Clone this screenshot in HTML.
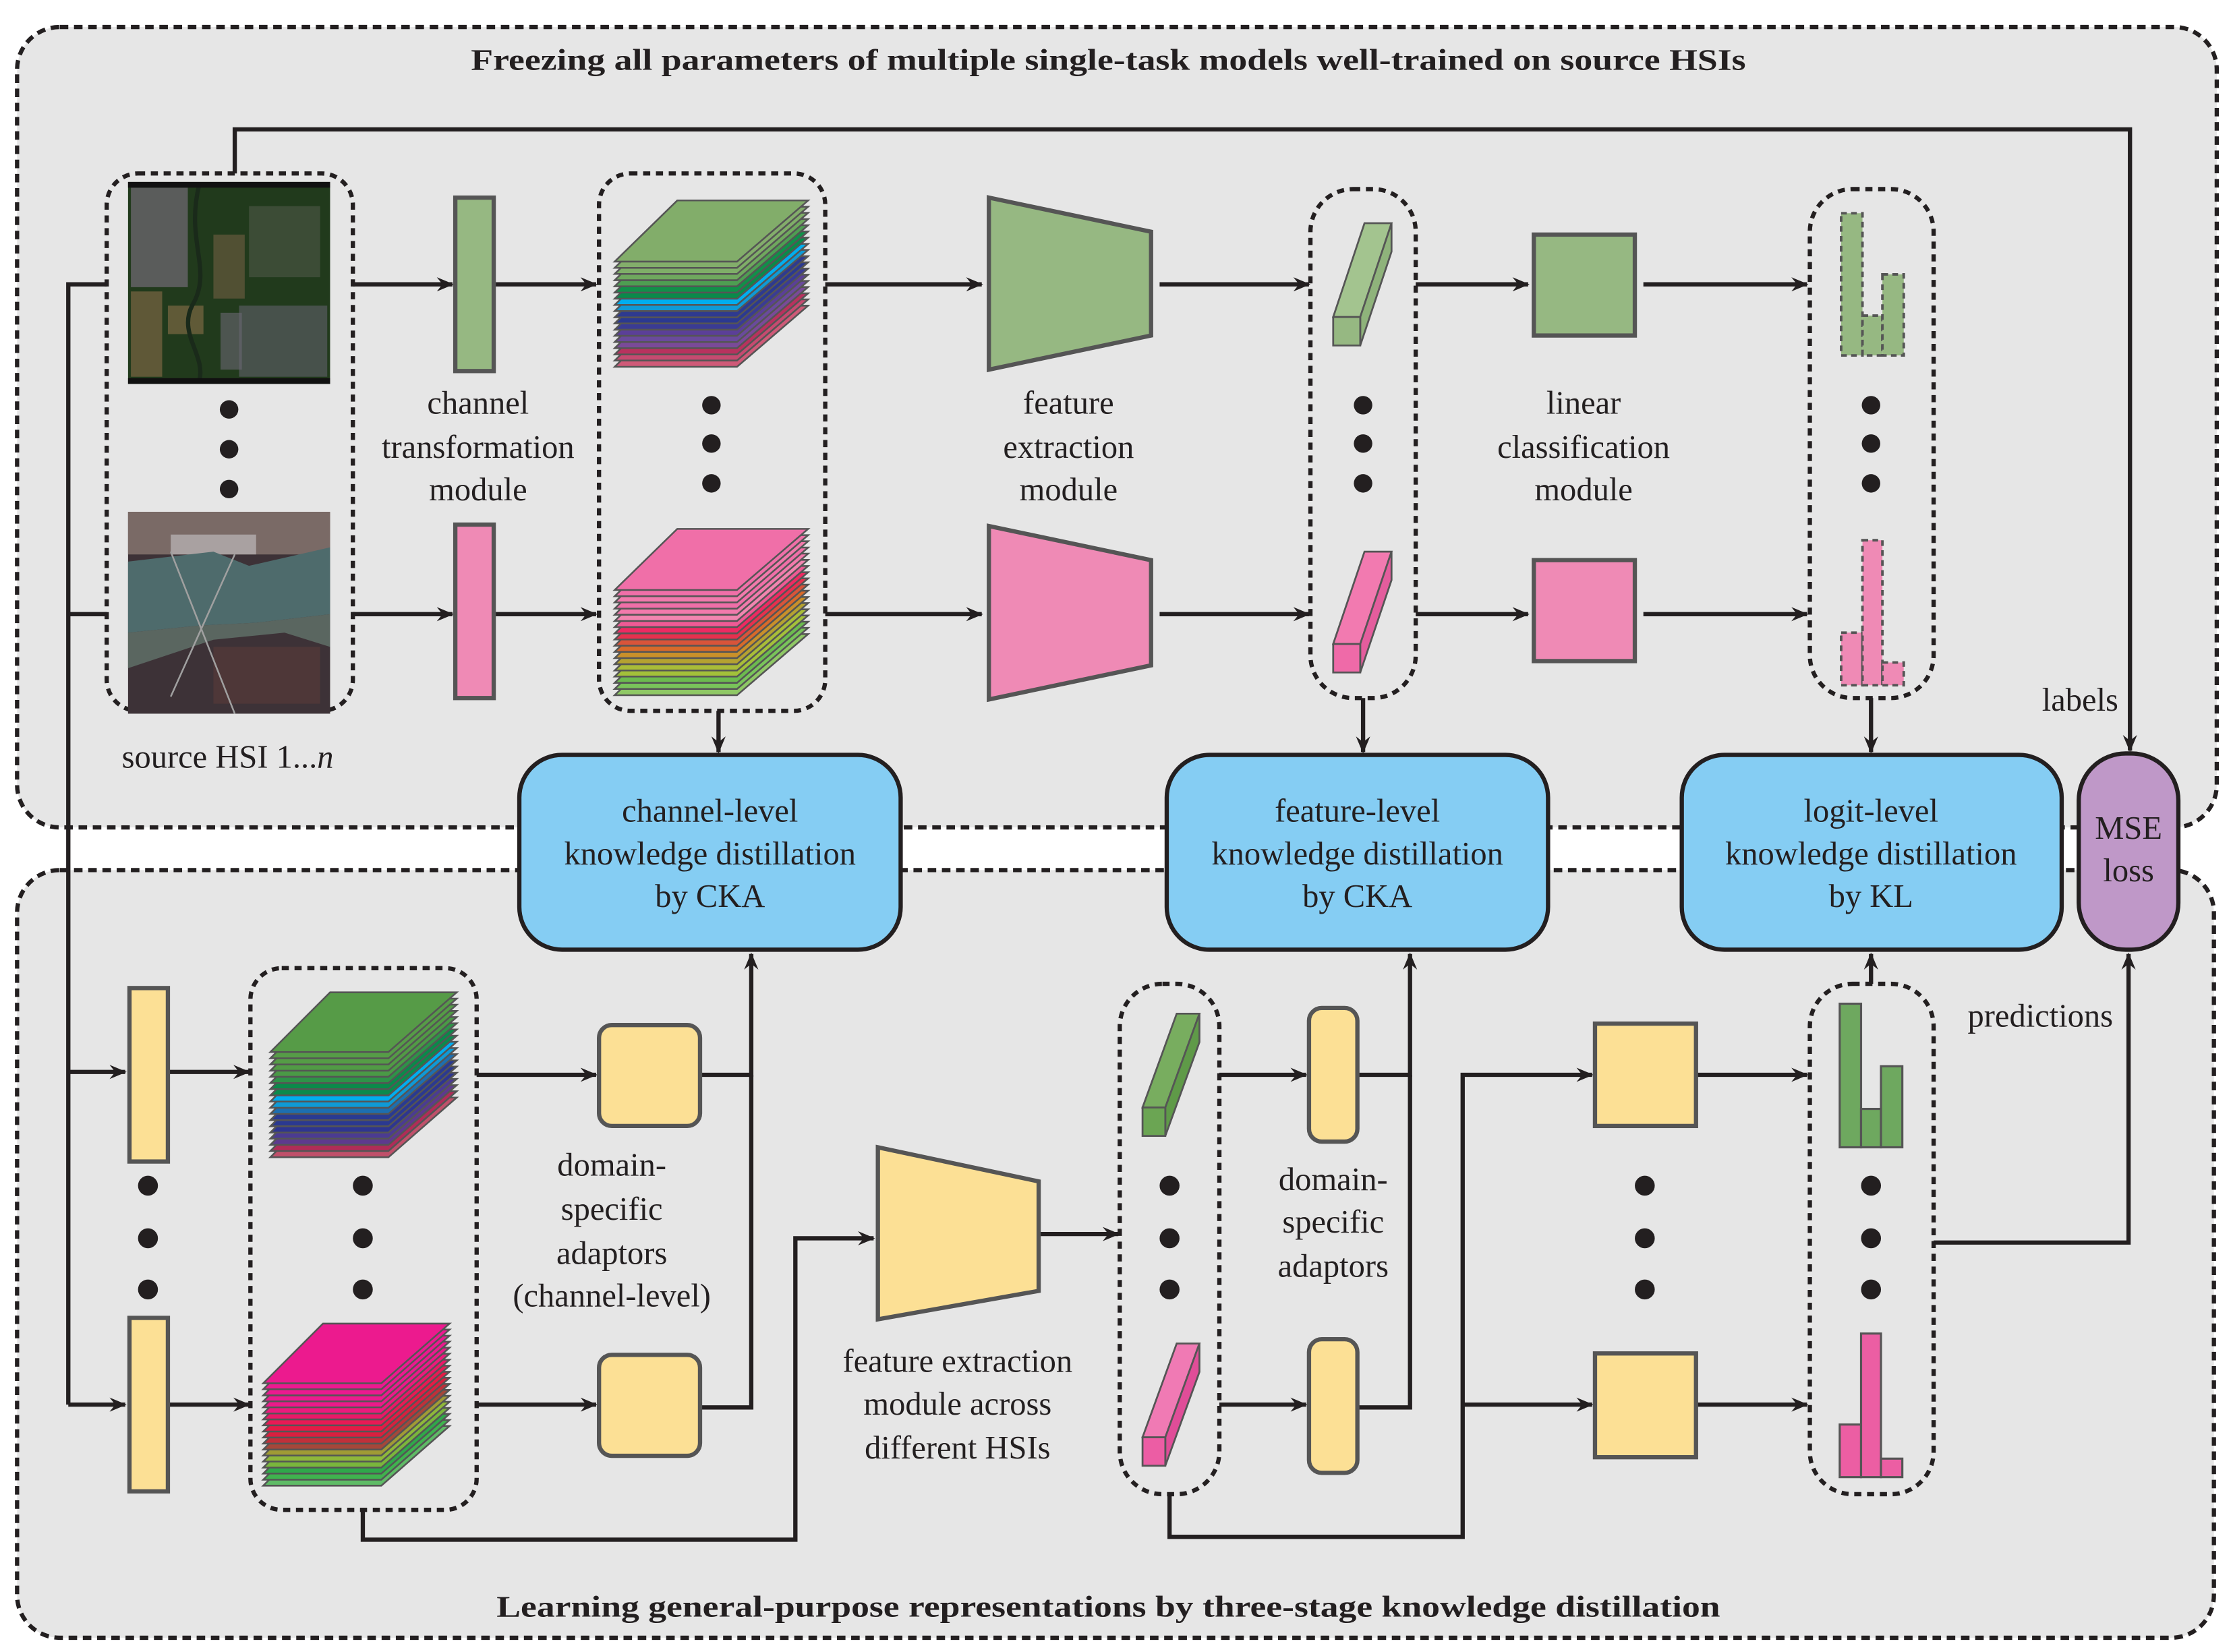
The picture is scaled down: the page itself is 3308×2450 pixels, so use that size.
<!DOCTYPE html>
<html><head><meta charset="utf-8"><style>html,body{margin:0;padding:0;background:#fff}svg{display:block}</style></head><body>
<svg width="3308" height="2450" viewBox="0 0 1568 1162" preserveAspectRatio="none" xmlns="http://www.w3.org/2000/svg" font-family="'Liberation Serif', serif">
<defs>
<marker id="ar" viewBox="0 0 12 10" refX="11" refY="5" markerWidth="12" markerHeight="10" markerUnits="userSpaceOnUse" orient="auto"><path d="M0,0 L12,5 L0,10 L4,5 Z" fill="#231f20"/></marker>
<polygon id="LT" points="0,0 86,0 136,-43 44,-43" stroke="#555" stroke-width="1.2"/>
<polygon id="LB" points="0,0 83,0 131,-42 42,-42" stroke="#555" stroke-width="1.2"/>
</defs>
<rect width="1568" height="1162" fill="#fff"/>
<rect x="12" y="19" width="1546" height="563" rx="30" fill="#e6e6e6" stroke="#231f20" stroke-width="3" stroke-dasharray="6 4"/>
<rect x="12" y="612" width="1544" height="540" rx="30" fill="#e6e6e6" stroke="#231f20" stroke-width="3" stroke-dasharray="6 4"/>
<text x="779" y="49" text-anchor="middle" font-weight="bold" font-size="21" textLength="896" lengthAdjust="spacingAndGlyphs" fill="#231f20">Freezing all parameters of multiple single-task models well-trained on source HSIs</text>
<text x="779" y="1137" text-anchor="middle" font-weight="bold" font-size="21" textLength="860" lengthAdjust="spacingAndGlyphs" fill="#231f20">Learning general-purpose representations by three-stage knowledge distillation</text>

<g stroke="#231f20" stroke-width="3" fill="none">
<polyline points="165,122 165,91 1497,91 1497,528" marker-end="url(#ar)"/>
<polyline points="75,200 48,200 48,988"/>
<line x1="48" y1="432" x2="75" y2="432"/>
<line x1="48" y1="754" x2="88" y2="754" marker-end="url(#ar)"/>
<line x1="48" y1="988" x2="88" y2="988" marker-end="url(#ar)"/>
<line x1="248" y1="200" x2="318" y2="200" marker-end="url(#ar)"/>
<line x1="248" y1="432" x2="318" y2="432" marker-end="url(#ar)"/>
<line x1="347" y1="200" x2="419" y2="200" marker-end="url(#ar)"/>
<line x1="347" y1="432" x2="419" y2="432" marker-end="url(#ar)"/>
<line x1="580" y1="200" x2="690" y2="200" marker-end="url(#ar)"/>
<line x1="580" y1="432" x2="690" y2="432" marker-end="url(#ar)"/>
<line x1="815" y1="200" x2="920" y2="200" marker-end="url(#ar)"/>
<line x1="815" y1="432" x2="920" y2="432" marker-end="url(#ar)"/>
<line x1="995" y1="200" x2="1074" y2="200" marker-end="url(#ar)"/>
<line x1="995" y1="432" x2="1074" y2="432" marker-end="url(#ar)"/>
<line x1="1155" y1="200" x2="1270" y2="200" marker-end="url(#ar)"/>
<line x1="1155" y1="432" x2="1270" y2="432" marker-end="url(#ar)"/>
<line x1="505" y1="500" x2="505" y2="529" marker-end="url(#ar)"/>
<line x1="958" y1="491" x2="958" y2="529" marker-end="url(#ar)"/>
<line x1="1315" y1="491" x2="1315" y2="529" marker-end="url(#ar)"/>
<line x1="118" y1="754" x2="175" y2="754" marker-end="url(#ar)"/>
<line x1="118" y1="988" x2="175" y2="988" marker-end="url(#ar)"/>
<line x1="335" y1="756" x2="419" y2="756" marker-end="url(#ar)"/>
<line x1="335" y1="988" x2="419" y2="988" marker-end="url(#ar)"/>
<polyline points="492,756 528,756 528,671" marker-end="url(#ar)"/>
<polyline points="492,990 528,990 528,756"/>
<polyline points="255,1062 255,1083 559,1083 559,871 614,871" marker-end="url(#ar)"/>
<line x1="730" y1="868" x2="786" y2="868" marker-end="url(#ar)"/>
<line x1="857" y1="756" x2="918" y2="756" marker-end="url(#ar)"/>
<line x1="857" y1="988" x2="918" y2="988" marker-end="url(#ar)"/>
<polyline points="954,756 991,756 991,671" marker-end="url(#ar)"/>
<polyline points="954,990 991,990 991,756"/>
<polyline points="822,1051 822,1081 1028,1081 1028,756 1119,756" marker-end="url(#ar)"/>
<line x1="1028" y1="988" x2="1119" y2="988" marker-end="url(#ar)"/>
<line x1="1192" y1="756" x2="1270" y2="756" marker-end="url(#ar)"/>
<line x1="1192" y1="988" x2="1270" y2="988" marker-end="url(#ar)"/>
<line x1="1315" y1="692" x2="1315" y2="671" marker-end="url(#ar)"/>
<polyline points="1359,874 1496,874 1496,671" marker-end="url(#ar)"/>
</g>

<g fill="none" stroke="#231f20" stroke-width="3" stroke-dasharray="5 4">
<rect x="75" y="122" width="173" height="378" rx="22"/>
<rect x="421" y="122" width="159" height="378" rx="22"/>
<rect x="921" y="133" width="74" height="358" rx="30"/>
<rect x="1272" y="133" width="87" height="358" rx="30"/>
<rect x="176" y="681" width="159" height="381" rx="22"/>
<rect x="787" y="692" width="70" height="359" rx="30"/>
<rect x="1272" y="692" width="87" height="359" rx="30"/>
</g>

<!-- source images -->
<rect x="90" y="128" width="142" height="142" fill="#213a1c"/>
<rect x="92" y="132" width="40" height="70" fill="#6d6870" opacity="0.75"/>
<rect x="92" y="205" width="22" height="60" fill="#7a6543" opacity="0.7"/>
<rect x="118" y="215" width="25" height="20" fill="#8a6f4a" opacity="0.6"/>
<rect x="150" y="165" width="22" height="45" fill="#7a6247" opacity="0.55"/>
<rect x="175" y="145" width="50" height="50" fill="#4f5848" opacity="0.6"/>
<rect x="168" y="215" width="62" height="50" fill="#60606a" opacity="0.6"/>
<rect x="155" y="220" width="15" height="40" fill="#6a6873" opacity="0.6"/>
<path d="M140,130 C130,170 150,190 135,215 C125,235 145,250 140,268" stroke="#1a2a1a" stroke-width="3" fill="none"/>
<rect x="90" y="128" width="142" height="4" fill="#111"/>
<rect x="90" y="266" width="142" height="4" fill="#111"/>
<rect x="90" y="360" width="142" height="142" fill="#3d3237"/>
<rect x="90" y="360" width="142" height="30" fill="#7a6a66"/>
<rect x="120" y="376" width="60" height="14" fill="#c8c6c8" opacity="0.6"/>
<polygon points="90,395 150,388 175,398 232,385 232,432 180,438 140,440 90,445" fill="#4e6b6c"/>
<polygon points="90,445 140,440 180,438 232,432 232,455 200,445 150,450 90,470" fill="#5a6660"/>
<rect x="150" y="455" width="75" height="40" fill="#5a3b38" opacity="0.6"/>
<line x1="120" y1="388" x2="165" y2="502" stroke="#a0a0a0" stroke-width="1.2"/>
<line x1="165" y1="390" x2="120" y2="490" stroke="#a0a0a0" stroke-width="1.2"/>

<g fill="#231f20">
<circle cx="161" cy="288" r="6.5"/><circle cx="161" cy="316" r="6.5"/><circle cx="161" cy="344" r="6.5"/>
<circle cx="500" cy="285" r="6.5"/><circle cx="500" cy="312" r="6.5"/><circle cx="500" cy="340" r="6.5"/>
<circle cx="958" cy="285" r="6.5"/><circle cx="958" cy="312" r="6.5"/><circle cx="958" cy="340" r="6.5"/>
<circle cx="1315" cy="285" r="6.5"/><circle cx="1315" cy="312" r="6.5"/><circle cx="1315" cy="340" r="6.5"/>
<circle cx="104" cy="834" r="7"/><circle cx="104" cy="871" r="7"/><circle cx="104" cy="907" r="7"/>
<circle cx="255" cy="834" r="7"/><circle cx="255" cy="871" r="7"/><circle cx="255" cy="907" r="7"/>
<circle cx="822" cy="834" r="7"/><circle cx="822" cy="871" r="7"/><circle cx="822" cy="907" r="7"/>
<circle cx="1156" cy="834" r="7"/><circle cx="1156" cy="871" r="7"/><circle cx="1156" cy="907" r="7"/>
<circle cx="1315" cy="834" r="7"/><circle cx="1315" cy="871" r="7"/><circle cx="1315" cy="907" r="7"/>
</g>

<g stroke="#555" stroke-width="3">
<rect x="320" y="139" width="27" height="122" fill="#96b882"/>
<rect x="320" y="369" width="27" height="122" fill="#ef8ab5"/>
<polygon points="695,139 809,163 809,236 695,260" fill="#96b882"/>
<polygon points="695,370 809,394 809,468 695,492" fill="#ef8ab5"/>
<rect x="1078" y="165" width="71" height="71" fill="#96b882"/>
<rect x="1078" y="394" width="71" height="71" fill="#ef8ab5"/>
<rect x="91" y="695" width="27" height="122" fill="#fce095"/>
<rect x="91" y="927" width="27" height="122" fill="#fce095"/>
<rect x="421" y="721" width="71" height="71" rx="9" fill="#fce095"/>
<rect x="421" y="953" width="71" height="71" rx="9" fill="#fce095"/>
<polygon points="617,807 730,831 730,908 617,928" fill="#fce095"/>
<rect x="920" y="709" width="34" height="94" rx="9" fill="#fce095"/>
<rect x="920" y="942" width="34" height="94" rx="9" fill="#fce095"/>
<rect x="1121" y="720" width="71" height="72" fill="#fce095"/>
<rect x="1121" y="952" width="71" height="73" fill="#fce095"/>
</g>

<g stroke="#555" stroke-width="1.3">
<polygon points="937,223 959,157 978,157 956,223" fill="#a3c48f"/><polygon points="956,223 978,157 978,177 956,243" fill="#8fb37b"/><rect x="937" y="223" width="19" height="20" fill="#96b882"/>
<polygon points="937,453 959,388 978,388 956,453" fill="#f27ab0"/><polygon points="956,453 978,388 978,408 956,473" fill="#e45d9d"/><rect x="937" y="453" width="19" height="20" fill="#ef6aa8"/>
<polygon points="803,779 827,713 843,713 819,779" fill="#78ad5f"/><polygon points="819,779 843,713 843,733 819,799" fill="#5f9a48"/><rect x="803" y="779" width="16" height="20" fill="#6ba553"/>
<polygon points="803,1011 827,945 843,945 819,1011" fill="#f07ab4"/><polygon points="819,1011 843,945 843,965 819,1031" fill="#e04d98"/><rect x="803" y="1011" width="16" height="20" fill="#ec5da4"/>
</g>

<g stroke="#555" stroke-width="1.8" stroke-dasharray="4 3" fill="#96b882">
<rect x="1294" y="150" width="15" height="100"/><rect x="1309" y="222" width="14" height="28"/><rect x="1323" y="193" width="15" height="57"/>
</g>
<g stroke="#555" stroke-width="1.8" stroke-dasharray="4 3" fill="#ef8ab5">
<rect x="1294" y="445" width="15" height="37"/><rect x="1309" y="380" width="14" height="102"/><rect x="1323" y="466" width="15" height="16"/>
</g>
<g stroke="#555" stroke-width="1.5" fill="#6ea85f">
<rect x="1293" y="706" width="15" height="101"/><rect x="1308" y="780" width="14" height="27"/><rect x="1322" y="750" width="15" height="57"/>
</g>
<g stroke="#555" stroke-width="1.5" fill="#ec5ea3">
<rect x="1293" y="1002" width="15" height="37"/><rect x="1308" y="938" width="14" height="101"/><rect x="1322" y="1026" width="15" height="13"/>
</g>

<g transform="translate(432,184)">
<use href="#LT" y="74" fill="#cf5a78"/><use href="#LT" y="69.6" fill="#c64a70"/><use href="#LT" y="65.3" fill="#b8325e"/><use href="#LT" y="60.9" fill="#7a4a98"/><use href="#LT" y="56.6" fill="#6a4a9c"/><use href="#LT" y="52.2" fill="#5b3f98"/><use href="#LT" y="47.9" fill="#3a3b94"/><use href="#LT" y="43.5" fill="#2b3990"/><use href="#LT" y="39.2" fill="#2e3a8f"/><use href="#LT" y="34.8" fill="#0f9ad6"/><use href="#LT" y="30.5" fill="#00aeef"/><use href="#LT" y="26.1" fill="#0a8a4a"/><use href="#LT" y="21.8" fill="#119049"/><use href="#LT" y="17.4" fill="#4e9e52"/><use href="#LT" y="13.1" fill="#6fa85e"/><use href="#LT" y="8.7" fill="#7fae68"/><use href="#LT" y="4.4" fill="#83ad6b"/><use href="#LT" y="0" fill="#82ad6a"/>
</g>
<g transform="translate(432,415)">
<use href="#LT" y="74" fill="#8fc865"/><use href="#LT" y="69.6" fill="#79c45a"/><use href="#LT" y="65.3" fill="#6cbb4f"/><use href="#LT" y="60.9" fill="#a3c13a"/><use href="#LT" y="56.6" fill="#a9bd38"/><use href="#LT" y="52.2" fill="#b5a231"/><use href="#LT" y="47.9" fill="#c9902a"/><use href="#LT" y="43.5" fill="#d86a2a"/><use href="#LT" y="39.2" fill="#d9543a"/><use href="#LT" y="34.8" fill="#e8304e"/><use href="#LT" y="30.5" fill="#ee2a62"/><use href="#LT" y="26.1" fill="#ef5a95"/><use href="#LT" y="21.8" fill="#f285b0"/><use href="#LT" y="17.4" fill="#f27aac"/><use href="#LT" y="13.1" fill="#f06fa8"/><use href="#LT" y="8.7" fill="#f27aac"/><use href="#LT" y="4.4" fill="#f06fa8"/><use href="#LT" y="0" fill="#f06fa8"/>
</g>
<g transform="translate(190,740)">
<use href="#LB" y="74" fill="#c0506a"/><use href="#LB" y="69.6" fill="#b02c58"/><use href="#LB" y="65.3" fill="#5d3a8e"/><use href="#LB" y="60.9" fill="#4b3b92"/><use href="#LB" y="56.6" fill="#2e3590"/><use href="#LB" y="52.2" fill="#2b3990"/><use href="#LB" y="47.9" fill="#293a92"/><use href="#LB" y="43.5" fill="#1d6fb0"/><use href="#LB" y="39.2" fill="#0f9ad6"/><use href="#LB" y="34.8" fill="#00aeef"/><use href="#LB" y="30.5" fill="#0b8a4c"/><use href="#LB" y="26.1" fill="#0a8a4a"/><use href="#LB" y="21.8" fill="#2e9348"/><use href="#LB" y="17.4" fill="#4a9a46"/><use href="#LB" y="13.1" fill="#519b45"/><use href="#LB" y="8.7" fill="#559c46"/><use href="#LB" y="4.4" fill="#569c47"/><use href="#LB" y="0" fill="#569b47"/>
</g>
<g transform="translate(185,973)">
<use href="#LB" y="72" fill="#5fbb66"/><use href="#LB" y="67.8" fill="#3fb34e"/><use href="#LB" y="63.5" fill="#2fa84a"/><use href="#LB" y="59.3" fill="#7ab63c"/><use href="#LB" y="55" fill="#8eb83a"/><use href="#LB" y="50.8" fill="#a09b35"/><use href="#LB" y="46.6" fill="#a5473a"/><use href="#LB" y="42.4" fill="#c0303a"/><use href="#LB" y="38.1" fill="#d8203f"/><use href="#LB" y="33.9" fill="#e41b46"/><use href="#LB" y="29.6" fill="#e81a55"/><use href="#LB" y="25.4" fill="#ea1868"/><use href="#LB" y="21.2" fill="#ec1a7d"/><use href="#LB" y="16.9" fill="#ec1a8a"/><use href="#LB" y="12.7" fill="#ec1a8f"/><use href="#LB" y="8.5" fill="#ec1990"/><use href="#LB" y="4.2" fill="#ed1990"/><use href="#LB" y="0" fill="#ec1a8e"/>
</g>

<g stroke="#231f20" stroke-width="3">
<rect x="365" y="531" width="268" height="137" rx="30" fill="#85cdf3"/>
<rect x="820" y="531" width="268" height="137" rx="30" fill="#85cdf3"/>
<rect x="1182" y="531" width="267" height="137" rx="30" fill="#85cdf3"/>
<rect x="1461" y="530" width="70" height="138" rx="33" fill="#bf98c8"/>
</g>

<g font-size="23" fill="#231f20" text-anchor="middle">
<text x="336" y="291">channel</text><text x="336" y="322">transformation</text><text x="336" y="352">module</text>
<text x="751" y="291">feature</text><text x="751" y="322">extraction</text><text x="751" y="352">module</text>
<text x="1113" y="291">linear</text><text x="1113" y="322">classification</text><text x="1113" y="352">module</text>
<text x="160" y="540">source HSI 1...<tspan font-style="italic">n</tspan></text>
<text x="1462" y="500">labels</text>
<text x="1434" y="722">predictions</text>
<text x="499" y="578">channel-level</text><text x="499" y="608">knowledge distillation</text><text x="499" y="638">by CKA</text>
<text x="954" y="578">feature-level</text><text x="954" y="608">knowledge distillation</text><text x="954" y="638">by CKA</text>
<text x="1315" y="578">logit-level</text><text x="1315" y="608">knowledge distillation</text><text x="1315" y="638">by KL</text>
<text x="1496" y="590">MSE</text><text x="1496" y="620">loss</text>
<text x="430" y="827">domain-</text><text x="430" y="858">specific</text><text x="430" y="889">adaptors</text><text x="430" y="919">(channel-level)</text>
<text x="673" y="965">feature extraction</text><text x="673" y="995">module across</text><text x="673" y="1026">different HSIs</text>
<text x="937" y="837">domain-</text><text x="937" y="867">specific</text><text x="937" y="898">adaptors</text>
</g>
</svg>
</body></html>
